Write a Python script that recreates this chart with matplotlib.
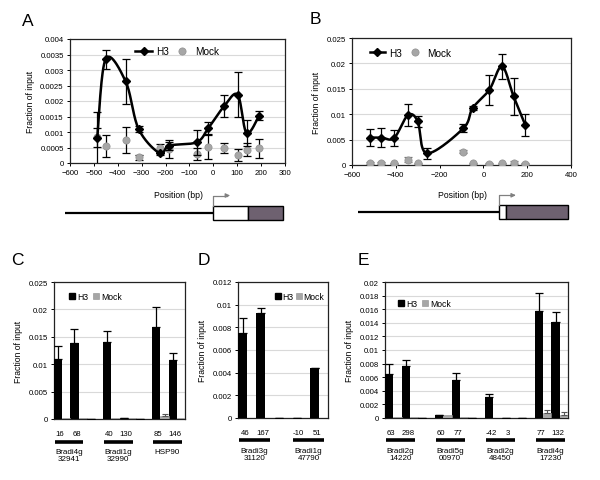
import numpy as np
import matplotlib
matplotlib.use("Agg")
import matplotlib.pyplot as plt
from matplotlib.lines import Line2D
from matplotlib.patches import Rectangle, Patch
from matplotlib.ticker import MultipleLocator, FuncFormatter

plt.rcParams['font.family'] = ['Liberation Sans', 'DejaVu Sans']

# ---------------- data ----------------
# Panel A
A_pos = [-486, -451, -367, -313, -224, -185, -70, -21, 45, 102, 139, 192]
A_h3 = [0.0008, 0.00335, 0.00263, 0.0011, 0.00031, 0.00056, 0.00067, 0.00112, 0.00183, 0.0022, 0.00097, 0.00153]
A_h3_err = [0.00085, 0.00031, 0.00074, 0.0001, 0.00006, 0.00013, 0.0004, 0.0002, 0.00036, 0.00073, 0.00043, 0.00015]
A_mock = [0.00083, 0.00054, 0.00075, 0.00018, 0.0005, 0.00045, 0.00029, 0.00051, 0.00048, 0.00026, 0.00043, 0.00047]
A_mock_err = [0.0003, 0.00036, 0.00042, 0.00008, 0.00011, 0.0003, 0.0002, 0.00038, 0.00016, 0.0002, 0.0002, 0.0003]

# Panel B
B_pos = [-516, -466, -408, -345, -300, -258, -92, -49, 27, 85, 138, 191]
B_h3 = [0.0054, 0.0054, 0.0053, 0.0098, 0.0086, 0.0023, 0.0072, 0.0112, 0.0148, 0.0194, 0.0135, 0.0079]
B_h3_err = [0.0016, 0.0018, 0.0015, 0.0022, 0.0011, 0.0011, 0.0008, 0.0004, 0.003, 0.0025, 0.0036, 0.0022]
B_mock_pos = [-516, -466, -408, -345, -300, -92, -49, 27, 85, 138, 191]
B_mock = [0.0003, 0.0004, 0.0003, 0.001, 0.0003, 0.0026, 0.0003, 0.0002, 0.0003, 0.0004, 0.0002]
B_mock_err = [0.0002, 0.0002, 0.0001, 0.0005, 0.0001, 0.0003, 0.0001, 0.0001, 0.0001, 0.0003, 0.0001]

# Panel C
C_labels = ['16', '68', '', '40', '130', '', '85', '146']
C_h3 = [0.011, 0.0138, 0, 0.014, 0.0001, 0, 0.0167, 0.0107]
C_h3_err = [0.0023, 0.0027, 0, 0.002, 0, 0, 0.0038, 0.0013]
C_mock = [0.0001, 0.0001, 0, 0.0002, 0.0001, 0, 0.0005, 0.0001]
C_mock_err = [0, 0, 0, 0, 0, 0, 0.0005, 0]
C_genes = ['Bradi4g\n32941', 'Bradi1g\n32990', 'HSP90']
C_groups = [(0, 1), (3, 4), (6, 7)]

# Panel D
D_labels = ['46', '167', '', '-10', '51']
D_h3 = [0.0075, 0.0093, 0, 0, 0.0044]
D_h3_err = [0.0013, 0.0004, 0, 0, 0]
D_mock = [0.00003, 0.00003, 0, 0.00002, 0.00002]
D_mock_err = [0, 0, 0, 0, 0]
D_genes = ['Bradi3g\n31120', 'Bradi1g\n47790']
D_groups = [(0, 1), (3, 4)]

# Panel E
E_labels = ['63', '298', '', '60', '77', '', '-42', '3', '', '77', '132']
E_h3 = [0.0065, 0.0077, 0, 0.0004, 0.0056, 0, 0.0031, 0.00005, 0, 0.0157, 0.0141]
E_h3_err = [0.0015, 0.0009, 0, 0, 0.001, 0, 0.0005, 0, 0, 0.0027, 0.0015]
E_mock = [0.0001, 0.0001, 0, 0.0004, 0.0001, 0, 0.00005, 0.00005, 0, 0.0007, 0.0005]
E_mock_err = [0, 0, 0, 0, 0, 0, 0, 0, 0, 0.0005, 0.0004]
E_genes = ['Bradi2g\n14220', 'Bradi5g\n00970', 'Bradi2g\n48450', 'Bradi4g\n17230']
E_groups = [(0, 1), (3, 4), (6, 7), (9, 10)]

# ---------------- style ----------------
TICK_FS = 5.6
LAB_FS = 6.2
LEG_FS = 7.2
BLEG_FS = 6.2
GRID_C = '#d9d9d9'
MOCK_C = '#a6a6a6'
PURPLE = '#6e6170'

W, H = 600, 481
fig = plt.figure(figsize=(6.0, 4.81), dpi=100)


def px_axes(l, t, r, b):
    return fig.add_axes([l / W, 1 - b / H, (r - l) / W, (b - t) / H])


def gfmt(v, p):
    return '%g' % round(v, 6)


def style_axes(ax, ymax, ystep):
    ax.set_ylim(0, ymax)
    ax.yaxis.set_major_locator(MultipleLocator(ystep))
    ax.yaxis.set_major_formatter(FuncFormatter(gfmt))
    ax.grid(axis='y', color=GRID_C, lw=0.8)
    ax.set_axisbelow(True)
    for s in ax.spines.values():
        s.set_color('#222222')
        s.set_linewidth(0.9)
    ax.tick_params(axis='y', labelsize=TICK_FS, length=2.5, width=0.7, pad=2)
    ax.set_ylabel('Fraction of input', fontsize=LAB_FS, labelpad=4)


def smooth_curve(x, y, n=30):
    pts = np.column_stack([x, y]).astype(float)
    out = [pts[0]]
    t = np.linspace(0, 1, n)[1:, None]
    for i in range(len(pts) - 1):
        p0 = pts[i - 1] if i > 0 else pts[i]
        p1, p2 = pts[i], pts[i + 1]
        p3 = pts[i + 2] if i + 2 < len(pts) else pts[i + 1]
        c1 = p1 + (p2 - p0) / 6.0
        c2 = p2 - (p3 - p1) / 6.0
        seg = ((1 - t) ** 3) * p1 + 3 * ((1 - t) ** 2) * t * c1 + 3 * (1 - t) * t ** 2 * c2 + t ** 3 * p2
        out.extend(seg)
    out = np.array(out)
    return out[:, 0], out[:, 1]


def line_panel(ax, pos, h3, h3err, mpos, mock, mockerr, xlim, xstep, ymax, ystep, mock_ecolor):
    style_axes(ax, ymax, ystep)
    ax.set_xlim(*xlim)
    ax.xaxis.set_major_locator(MultipleLocator(xstep))
    ax.tick_params(axis='x', labelsize=TICK_FS, length=2.5, width=0.7, pad=2)
    ax.errorbar(mpos, mock, yerr=mockerr, fmt='none', ecolor=mock_ecolor, elinewidth=0.9,
                capsize=3, capthick=0.9, zorder=3)
    ax.plot(mpos, mock, 'o', color=MOCK_C, mec='#909090', mew=0.5, ms=5.2, zorder=4)
    ax.errorbar(pos, h3, yerr=h3err, fmt='none', ecolor='black', elinewidth=0.9,
                capsize=3, capthick=0.9, zorder=5)
    sx, sy = smooth_curve(pos, h3)
    ax.plot(sx, sy, '-', color='black', lw=1.8, zorder=6)
    ax.plot(pos, h3, 'D', color='black', ms=3.8, zorder=7)
    handles = [Line2D([], [], color='black', lw=1.8, marker='D', ms=3.8),
               Line2D([], [], ls='none', marker='o', color=MOCK_C, mec='#909090', mew=0.5, ms=5.2)]
    return handles


def bar_panel(ax, labels, h3, h3err, mock, mockerr, genes, groups, ymax, ystep):
    style_axes(ax, ymax, ystep)
    n = len(labels)
    x = np.arange(n)
    w = 0.5
    ax.set_xlim(-0.5, n - 0.5)
    ax.bar(x - w / 2, h3, w, color='black', zorder=3)
    ax.bar(x + w / 2, mock, w, color=MOCK_C, edgecolor='#8c8c8c', lw=0.4, zorder=3)
    ax.errorbar(x - w / 2, h3, yerr=[np.zeros(n), h3err], fmt='none', ecolor='black',
                elinewidth=0.9, capsize=3, capthick=0.9, zorder=4)
    me = np.array(mockerr)
    sel = me > 0
    ax.errorbar((x + w / 2)[sel], np.array(mock)[sel], yerr=[np.zeros(sel.sum()), me[sel]], fmt='none',
                ecolor='#555555', elinewidth=0.8, capsize=2.5, capthick=0.8, zorder=4)
    ax.set_xticks(x - w / 4)
    ax.set_xticklabels(labels)
    ax.tick_params(axis='x', labelsize=TICK_FS, length=0, pad=8)
    tr = ax.get_xaxis_transform()
    for name, (g0, g1) in zip(genes, groups):
        ax.plot([g0 - 0.45, g1 + 0.3], [-0.165, -0.165], color='black', lw=2.6,
                transform=tr, clip_on=False, solid_capstyle='butt')
        ax.text((g0 + g1) / 2 - 0.08, -0.21, name, transform=tr, ha='center', va='top',
                fontsize=TICK_FS + 0.2, linespacing=1.1)
    handles = [Patch(color='black'), Patch(facecolor=MOCK_C, edgecolor='#8c8c8c', lw=0.4)]
    return handles


# ---------------- Panel A ----------------
axA = px_axes(70, 40, 285, 164)
hA = line_panel(axA, A_pos, A_h3, A_h3_err, A_pos, A_mock, A_mock_err,
                (-600, 300), 100, 0.004, 0.0005, 'black')
axA.legend(hA, ['H3', 'Mock'], loc='upper left', bbox_to_anchor=(0.27, 1.0), ncol=2,
           frameon=False, fontsize=LEG_FS, handlelength=1.7, handletextpad=0.4,
           columnspacing=0.5, borderpad=0.2)

# ---------------- Panel B ----------------
axB = px_axes(352, 39, 571, 166)
hB = line_panel(axB, B_pos, B_h3, B_h3_err, B_mock_pos, B_mock, B_mock_err,
                (-600, 400), 200, 0.025, 0.005, '#777777')
axB.legend(hB, ['H3', 'Mock'], loc='upper left', bbox_to_anchor=(0.05, 0.98), ncol=2,
           frameon=False, fontsize=LEG_FS, handlelength=1.5, handletextpad=0.4,
           columnspacing=0.6, borderpad=0.2)

# ---------------- Panel C ----------------
axC = px_axes(54, 283, 185, 420)
hC = bar_panel(axC, C_labels, C_h3, C_h3_err, C_mock, C_mock_err, C_genes, C_groups, 0.025, 0.005)
axC.legend(hC, ['H3', 'Mock'], loc='upper left', bbox_to_anchor=(0.07, 0.97), ncol=2,
           frameon=False, fontsize=BLEG_FS, handlelength=0.7, handleheight=0.7,
           handletextpad=0.2, columnspacing=0.6, borderpad=0.2)

# ---------------- Panel D ----------------
axD = px_axes(238, 283, 328, 419)
hD = bar_panel(axD, D_labels, D_h3, D_h3_err, D_mock, D_mock_err, D_genes, D_groups, 0.012, 0.002)
axD.legend(hD, ['H3', 'Mock'], loc='upper left', bbox_to_anchor=(0.34, 0.97), ncol=2,
           frameon=False, fontsize=BLEG_FS, handlelength=0.7, handleheight=0.7,
           handletextpad=0.2, columnspacing=0.3, borderpad=0.2)

# ---------------- Panel E ----------------
axE = px_axes(385, 283, 568, 419)
hE = bar_panel(axE, E_labels, E_h3, E_h3_err, E_mock, E_mock_err, E_genes, E_groups, 0.02, 0.002)
axE.legend(hE, ['H3', 'Mock'], loc='upper left', bbox_to_anchor=(0.04, 0.92), ncol=2,
           frameon=False, fontsize=BLEG_FS, handlelength=0.7, handleheight=0.7,
           handletextpad=0.2, columnspacing=0.6, borderpad=0.2)

# ---------------- overlay: panel letters, gene diagrams ----------------
ov = fig.add_axes([0, 0, 1, 1], zorder=-1)
ov.set_xlim(0, W)
ov.set_ylim(H, 0)
ov.axis('off')

for letter, (lx, ly) in zip('ABCDE', [(28, 21), (315, 19), (17, 261), (204, 261), (363, 261)]):
    fig.text(lx / W, 1 - ly / H, letter, fontsize=12.5, ha='center', va='center')

fig.text(178 / W, 1 - 196 / H, 'Position (bp)', fontsize=LAB_FS, ha='center', va='center')
fig.text(462 / W, 1 - 195 / H, 'Position (bp)', fontsize=LAB_FS, ha='center', va='center')


def gene_diagram(x0, tss, x_utr, x_end, yc):
    ov.plot([x0, tss], [yc, yc], color='black', lw=1.6, solid_capstyle='butt')
    ov.add_patch(Rectangle((tss, yc - 7), x_utr - tss, 14, facecolor='white', edgecolor='black', lw=1.0))
    ov.add_patch(Rectangle((x_utr, yc - 7), x_end - x_utr, 14, facecolor=PURPLE, edgecolor='black', lw=1.0))
    ov.plot([tss, tss, tss + 14], [yc - 7, yc - 17, yc - 17], color='#808080', lw=0.9)
    ov.annotate('', xy=(tss + 20, yc - 17), xytext=(tss + 12, yc - 17),
                arrowprops=dict(arrowstyle='-|>', color='#808080', lw=0.9, mutation_scale=6))


gene_diagram(65, 212.7, 247.7, 282.7, 213.5)
gene_diagram(358, 498.5, 505.7, 568.3, 213.3)

fig.savefig('out.png', dpi=100)
